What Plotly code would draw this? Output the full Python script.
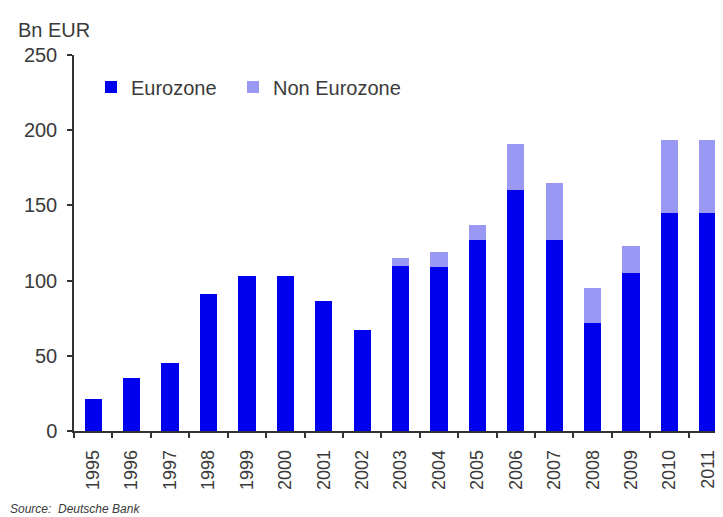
import plotly.graph_objects as go

years = ["1995", "1996", "1997", "1998", "1999", "2000", "2001", "2002", "2003",
         "2004", "2005", "2006", "2007", "2008", "2009", "2010", "2011"]
eurozone = [21.5, 35.5, 45, 91, 103, 103, 86.5, 67, 110, 109, 127, 160, 127, 72, 105, 145, 145]
non_eurozone = [0, 0, 0, 0, 0, 0, 0, 0, 5, 10, 10, 31, 38, 23, 18, 48.5, 48.5]
y_ticks = [0, 50, 100, 150, 200, 250]

EURO_COLOR = "#0000EE"
NON_COLOR = "#9999F5"
TXT = "#3a3a3a"
FONT = "Liberation Sans, Arial, sans-serif"

# The page body has an 8px margin, so plot margins are offset by -8px
ML, MT, MB = 66, 47, 94
PW = 723 - ML
PH = 517 - MT - MB
PLOT_LEFT_PAGE = 8 + ML
PLOT_BOTTOM_PAGE = 8 + 517 - MB


def px_x(px):
    return (px - PLOT_LEFT_PAGE) / PW


def px_y(py):
    return (PLOT_BOTTOM_PAGE - py) / PH


fig = go.Figure()
fig.add_trace(go.Bar(x=years, y=eurozone, name="Eurozone", legend="legend",
                     marker=dict(color=EURO_COLOR, line=dict(width=0))))
fig.add_trace(go.Bar(x=years, y=non_eurozone, name="Non Eurozone", legend="legend2",
                     marker=dict(color=NON_COLOR, line=dict(width=0))))

legend_common = dict(orientation="h", xanchor="left", yanchor="middle",
                     font=dict(size=20, color=TXT), bgcolor="rgba(0,0,0,0)",
                     itemwidth=30)

fig.update_layout(
    width=723, height=517,
    barmode="stack", bargap=0.55,
    plot_bgcolor="white", paper_bgcolor="white",
    margin=dict(l=ML, r=0, t=MT, b=MB),
    font=dict(family=FONT, size=20, color=TXT),
    showlegend=True,
    legend=dict(x=px_x(91), y=px_y(87), **legend_common),
    legend2=dict(x=px_x(233), y=px_y(87), **legend_common),
    xaxis=dict(
        type="category", range=[-0.5, 16.6],
        showline=True, linecolor="#333", linewidth=1.5,
        ticks="outside", tickson="boundaries", ticklen=5, tickcolor="#333", tickwidth=1.5,
        tickangle=-90, tickfont=dict(size=18, color=TXT), ticklabelstandoff=10,
        showgrid=False, zeroline=False,
    ),
    yaxis=dict(
        range=[0, 250], tickvals=y_ticks,
        showline=True, linecolor="#333", linewidth=1.5,
        ticks="outside", ticklen=5, tickcolor="#333", tickwidth=1.5,
        tickfont=dict(size=20, color=TXT), ticklabelstandoff=6,
        showgrid=False, zeroline=False,
    ),
    annotations=[
        dict(text="Bn EUR", xref="paper", yref="paper", x=px_x(16), y=px_y(30),
             xanchor="left", yanchor="middle", showarrow=False,
             font=dict(size=20, color=TXT)),
        dict(text="<i>Source:  Deutsche Bank</i>", xref="paper", yref="paper",
             x=px_x(8), y=px_y(509), xanchor="left", yanchor="middle", showarrow=False,
             font=dict(size=12, color=TXT)),
    ],
)

fig.write_html("out.html")
